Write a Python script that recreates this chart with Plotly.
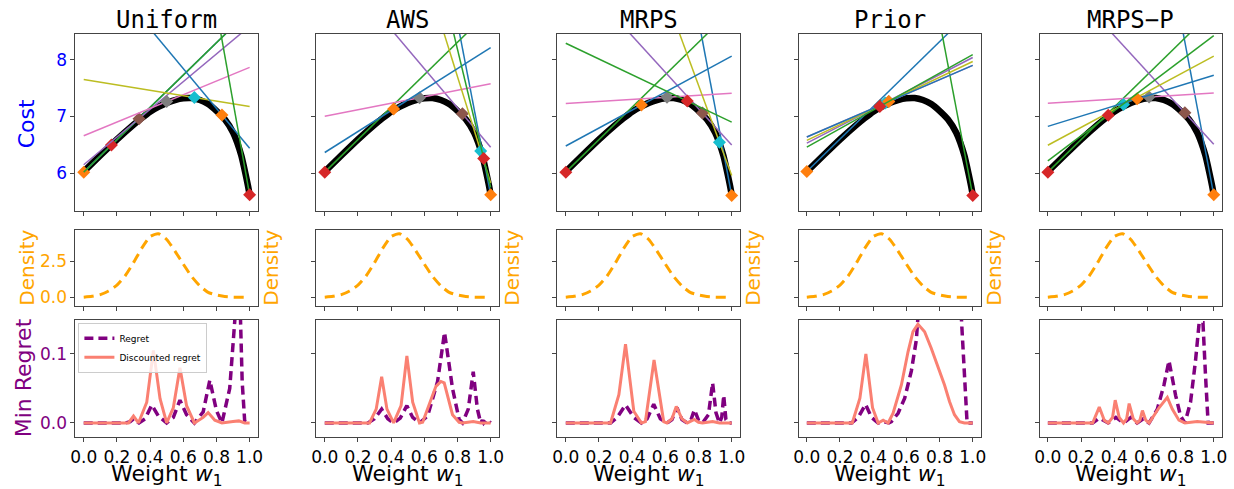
import plotly.graph_objects as go

# ---------------- data ----------------
METHODS = ["Uniform", "AWS", "MRPS", "Prior", "MRPS\u2212P"]

# Pareto front (cost of optimal solution vs weight w1)
FRONT_W = [0.0, 0.1, 0.2, 0.3, 0.35, 0.4, 0.45, 0.5, 0.55, 0.6, 0.65, 0.7, 0.75,
           0.8, 0.85, 0.9, 0.925, 0.95, 0.975, 0.99, 1.0]
FRONT_COST = [6.03, 6.315, 6.595, 6.855, 6.975, 7.085, 7.17, 7.24, 7.29, 7.32, 7.325,
              7.29, 7.22, 7.10, 6.95, 6.72, 6.54, 6.31, 5.99, 5.78, 5.62]

# sampled weights and the objective values of the selected solutions
# (cost at w1=0 -> F0, cost at w1=1 -> F1)
UNIFORM_W = [0.0, 0.167, 0.333, 0.5, 0.667, 0.833, 1.0]
UNIFORM_F0 = [6.02, 6.02, 6.15, 6.66, 7.65, 9.95, 22.0]
UNIFORM_F1 = [8.87, 8.87, 8.59, 7.865, 7.175, 6.44, 5.62]

AWS_W = [1.0, 0.0, 0.83, 0.571, 0.94, 0.415, 0.958]
AWS_F0 = [20.8, 6.02, 9.92, 7.006, 15.2, 6.366, 17.92]
AWS_F1 = [5.62, 8.88, 6.46, 7.576, 5.83, 8.215, 5.75]

MRPS_W = [1.0, 0.0, 0.824, 0.61, 0.926, 0.456, 0.732]
MRPS_F0 = [21.08, 6.02, 9.70, 7.228, 13.91, 6.48, 8.29]
MRPS_F1 = [5.61, 8.88, 6.50, 7.409, 5.96, 8.064, 6.90]

PRIOR_W = [0.0, 1.0, 0.444, 0.494, 0.472, 0.494, 0.44]
PRIOR_F0 = [6.03, 21.0, 6.53, 6.64, 6.58, 6.64, 6.46]
PRIOR_F1 = [8.89, 5.61, 8.04, 7.90, 7.97, 7.90, 8.09]

MRPSP_W = [1.0, 0.0, 0.826, 0.61, 0.456, 0.538, 0.364]
MRPSP_F0 = [21.08, 6.02, 9.70, 7.233, 6.494, 6.826, 6.22]
MRPSP_F1 = [5.62, 8.88, 6.51, 7.413, 8.064, 7.727, 8.426]

# prior density over w1
DENS_W = [0.0, 0.05, 0.1, 0.15, 0.2, 0.25, 0.3, 0.35, 0.4, 0.45, 0.5, 0.55, 0.6,
          0.65, 0.7, 0.75, 0.8, 0.85, 0.9, 0.95, 1.0]
DENS = [0.02, 0.08, 0.2, 0.45, 0.85, 1.5, 2.4, 3.4, 4.2, 4.4, 4.0, 3.2, 2.3,
        1.45, 0.8, 0.35, 0.17, 0.06, 0.02, 0.01, 0.0]

# min regret and discounted regret
UNIFORM_REG_W = [0.0, 0.25, 0.28, 0.30, 0.32, 0.333, 0.37, 0.41, 0.45, 0.5, 0.54, 0.58,
                 0.62, 0.667, 0.72, 0.76, 0.80, 0.833, 0.88, 0.936, 0.955, 0.97, 1.0]
UNIFORM_REG = [0.0, 0.0, 0.002, 0.006, 0.002, 0.0, 0.006, 0.026, 0.010, 0.0, 0.008, 0.033,
               0.012, 0.0, 0.016, 0.062, 0.018, 0.0, 0.05, 0.23, 0.06, 0.003, 0.0]
UNIFORM_DISC_W = [0.0, 0.27, 0.30, 0.33, 0.38, 0.42, 0.46, 0.5, 0.54, 0.58, 0.62, 0.667,
                  0.72, 0.75, 0.79, 0.833, 0.9, 0.935, 0.97, 1.0]
UNIFORM_DISC = [0.0, 0.0, 0.010, 0.0, 0.03, 0.105, 0.035, 0.0, 0.022, 0.080, 0.025, 0.0,
                0.008, 0.015, 0.004, 0.0, 0.002, 0.003, 0.0, 0.0]

AWS_REG_W = [0.0, 0.26, 0.30, 0.343, 0.38, 0.415, 0.455, 0.495, 0.53, 0.571, 0.62, 0.68,
             0.722, 0.77, 0.81, 0.83, 0.865, 0.895, 0.92, 0.94, 0.95, 0.958, 0.975, 1.0]
AWS_REG = [0.0, 0.0, 0.006, 0.020, 0.006, 0.0, 0.007, 0.025, 0.008, 0.0, 0.010, 0.060,
           0.131, 0.050, 0.005, 0.0, 0.02, 0.074, 0.02, 0.0, 0.004, 0.0, 0.005, 0.0]
AWS_DISC_W = [0.0, 0.27, 0.31, 0.343, 0.375, 0.415, 0.46, 0.495, 0.53, 0.571, 0.59, 0.67,
              0.70, 0.72, 0.77, 0.81, 0.83, 0.895, 0.94, 1.0]
AWS_DISC = [0.0, 0.0, 0.02, 0.067, 0.02, 0.0, 0.025, 0.097, 0.03, 0.0, 0.001, 0.053,
            0.060, 0.058, 0.012, 0.001, 0.0, 0.002, 0.0, 0.0]

MRPS_REG_W = [0.0, 0.27, 0.31, 0.36, 0.41, 0.456, 0.49, 0.53, 0.57, 0.61, 0.64, 0.67,
              0.70, 0.732, 0.755, 0.775, 0.80, 0.824, 0.86, 0.885, 0.905, 0.926, 0.94,
              0.952, 0.965, 0.98, 1.0]
MRPS_REG = [0.0, 0.0, 0.008, 0.026, 0.008, 0.0, 0.006, 0.027, 0.006, 0.0, 0.005, 0.022,
            0.005, 0.0, 0.005, 0.019, 0.004, 0.0, 0.012, 0.058, 0.015, 0.0, 0.008,
            0.040, 0.005, 0.0, 0.0]
MRPS_DISC_W = [0.0, 0.27, 0.32, 0.36, 0.41, 0.456, 0.48, 0.532, 0.59, 0.61, 0.64, 0.666,
               0.70, 0.732, 0.775, 0.80, 0.824, 0.885, 0.926, 1.0]
MRPS_DISC = [0.0, 0.0, 0.041, 0.114, 0.017, 0.0, 0.002, 0.091, 0.002, 0.0, 0.006, 0.024,
             0.006, 0.0, 0.005, 0.001, 0.0, 0.002, 0.0, 0.0]

PRIOR_REG_W = [0.0, 0.27, 0.31, 0.354, 0.39, 0.43, 0.46, 0.494, 0.51, 0.55, 0.59, 0.63,
               0.66, 0.70, 0.862, 0.932, 0.95, 0.966, 1.0]
PRIOR_REG = [0.0, 0.0, 0.008, 0.027, 0.008, 0.0, 0.002, 0.0, 0.002, 0.014, 0.036, 0.075,
             0.12, 0.2, 0.8, 0.15, 0.06, 0.0, 0.0]
PRIOR_DISC_W = [0.0, 0.274, 0.32, 0.356, 0.396, 0.43, 0.46, 0.49, 0.52, 0.57, 0.61, 0.64,
                0.67, 0.71, 0.75, 0.79, 0.83, 0.86, 0.89, 0.92, 0.95, 1.0]
PRIOR_DISC = [0.0, 0.0, 0.036, 0.100, 0.022, 0.0, 0.004, 0.0, 0.014, 0.055, 0.103, 0.132,
              0.143, 0.132, 0.108, 0.082, 0.055, 0.031, 0.012, 0.002, 0.0, 0.0]

MRPSP_REG_W = [0.0, 0.27, 0.31, 0.364, 0.41, 0.456, 0.50, 0.538, 0.575, 0.61, 0.66, 0.70,
               0.73, 0.77, 0.80, 0.826, 0.86, 0.89, 0.912, 0.935, 0.95, 0.966, 1.0]
MRPSP_REG = [0.0, 0.0, 0.007, 0.0, 0.008, 0.0, 0.008, 0.0, 0.006, 0.0, 0.02, 0.055,
             0.090, 0.04, 0.01, 0.0, 0.03, 0.09, 0.145, 0.145, 0.07, 0.0, 0.0]
MRPSP_DISC_W = [0.0, 0.27, 0.31, 0.34, 0.364, 0.39, 0.406, 0.43, 0.456, 0.475, 0.49, 0.515,
                0.538, 0.555, 0.57, 0.59, 0.61, 0.67, 0.72, 0.75, 0.79, 0.826, 0.9, 0.97, 1.0]
MRPSP_DISC = [0.0, 0.0, 0.023, 0.004, 0.0, 0.008, 0.033, 0.008, 0.0, 0.006, 0.028, 0.006,
              0.0, 0.004, 0.018, 0.004, 0.0, 0.022, 0.037, 0.02, 0.004, 0.0, 0.002, 0.0, 0.0]

SAMPLES = [
    (UNIFORM_W, UNIFORM_F0, UNIFORM_F1),
    (AWS_W, AWS_F0, AWS_F1),
    (MRPS_W, MRPS_F0, MRPS_F1),
    (PRIOR_W, PRIOR_F0, PRIOR_F1),
    (MRPSP_W, MRPSP_F0, MRPSP_F1),
]
REGRETS = [
    (UNIFORM_REG_W, UNIFORM_REG, UNIFORM_DISC_W, UNIFORM_DISC),
    (AWS_REG_W, AWS_REG, AWS_DISC_W, AWS_DISC),
    (MRPS_REG_W, MRPS_REG, MRPS_DISC_W, MRPS_DISC),
    (PRIOR_REG_W, PRIOR_REG, PRIOR_DISC_W, PRIOR_DISC),
    (MRPSP_REG_W, MRPSP_REG, MRPSP_DISC_W, MRPSP_DISC),
]

XTICKS = [0.0, 0.2, 0.4, 0.6, 0.8, 1.0]
XTICK_TEXT = ["0.0", "0.2", "0.4", "0.6", "0.8", "1.0"]

# ---------------- layout constants ----------------
W, H = 1234, 489
COL_LEFT = [71, 314, 557, 800, 1043]
COL_W = 184
ROWS = [(34, 212), (231, 307), (321, 439)]
YRANGES = [[5.333, 8.456], [-0.57, 4.65], [-0.0206, 0.1494]]
YTICKS = [[6, 7, 8], [0.0, 2.5], [0.0, 0.1]]
YTICK_TEXT = [["6", "7", "8"], ["0.0", "2.5"], ["0.0", "0.1"]]
YCOLORS = ["#0000ff", "#ffa500", "#800080"]
TAB10 = ['#1f77b4', '#ff7f0e', '#2ca02c', '#d62728', '#9467bd',
         '#8c564b', '#e377c2', '#7f7f7f', '#bcbd22', '#17becf']
FONT = "DejaVu Sans"
MONO = "DejaVu Sans Mono"
FRAME = "#444444"


def px_x(p):
    return p / W


def px_y(p):
    return 1 - p / H


fig = go.Figure()
layout = {}

for c in range(5):
    for r in range(3):
        idx = r * 5 + c + 1
        sx = "" if idx == 1 else str(idx)
        layout["xaxis" + sx] = dict(
            domain=[px_x(COL_LEFT[c]), px_x(COL_LEFT[c] + COL_W)],
            anchor="y" + sx, range=[-0.05, 1.05],
            tickmode="array", tickvals=XTICKS, ticktext=XTICK_TEXT,
            showticklabels=(r == 2), ticks="outside", ticklen=4, tickwidth=1,
            tickcolor=FRAME, showline=True, mirror=True, linecolor=FRAME,
            linewidth=1, showgrid=False, zeroline=False,
            tickfont=dict(family=FONT, size=17, color="black"),
        )
        layout["yaxis" + sx] = dict(
            domain=[px_y(ROWS[r][1]), px_y(ROWS[r][0])],
            anchor="x" + sx, range=YRANGES[r],
            tickmode="array", tickvals=YTICKS[r], ticktext=YTICK_TEXT[r],
            showticklabels=(c == 0), ticks="outside", ticklen=4, tickwidth=1,
            tickcolor=FRAME, showline=True, mirror=True, linecolor=FRAME,
            linewidth=1, showgrid=False, zeroline=False,
            tickfont=dict(family=FONT, size=17, color=YCOLORS[r]),
        )

for c in range(5):
    top = "" if c == 0 else str(c + 1)
    den = str(5 + c + 1)
    reg = str(10 + c + 1)
    # Pareto front
    fig.add_trace(go.Scatter(
        x=FRONT_W, y=FRONT_COST, mode="lines",
        line=dict(color="black", width=6.5, shape="spline", smoothing=0.6),
        xaxis="x" + top, yaxis="y" + top, showlegend=False, hoverinfo="skip"))
    sw, f0, f1 = SAMPLES[c]
    for k in range(len(sw)):
        fig.add_trace(go.Scatter(
            x=[0.0, 1.0], y=[f0[k], f1[k]], mode="lines",
            line=dict(color=TAB10[(2 * k) % 10], width=1.5),
            xaxis="x" + top, yaxis="y" + top, showlegend=False, hoverinfo="skip"))
        wk = sw[k]
        fig.add_trace(go.Scatter(
            x=[wk], y=[wk * f1[k] + (1 - wk) * f0[k]], mode="markers",
            marker=dict(symbol="diamond", size=10, color=TAB10[(2 * k + 1) % 10]),
            xaxis="x" + top, yaxis="y" + top, showlegend=False, hoverinfo="skip"))
    # density
    fig.add_trace(go.Scatter(
        x=DENS_W, y=DENS, mode="lines",
        line=dict(color="#ffa500", width=3, dash="10px,6px", shape="spline", smoothing=0.5),
        xaxis="x" + den, yaxis="y" + den, showlegend=False, hoverinfo="skip"))
    # regret
    rw, rv, dw, dv = REGRETS[c]
    fig.add_trace(go.Scatter(
        x=rw, y=rv, mode="lines", name="Regret",
        line=dict(color="#800080", width=3.5, dash="9px,5px"),
        xaxis="x" + reg, yaxis="y" + reg, showlegend=(c == 0), hoverinfo="skip"))
    fig.add_trace(go.Scatter(
        x=dw, y=dv, mode="lines", name="Discounted regret",
        line=dict(color="#fa8072", width=3),
        xaxis="x" + reg, yaxis="y" + reg, showlegend=(c == 0), hoverinfo="skip"))

annotations = []
for c, name in enumerate(METHODS):
    cx = px_x(COL_LEFT[c] + COL_W / 2)
    annotations.append(dict(
        text=name, x=cx, y=px_y(20), xref="paper", yref="paper",
        xanchor="center", yanchor="middle", showarrow=False,
        font=dict(family=MONO, size=24, color="black")))
    annotations.append(dict(
        text="Weight <i>w</i><sub>1</sub>", x=cx, y=px_y(494), xref="paper", yref="paper",
        xanchor="center", yanchor="bottom", showarrow=False,
        font=dict(family=FONT, size=22, color="black")))
    dx = 22 if c == 0 else COL_LEFT[c] - 46
    annotations.append(dict(
        text="Density", x=px_x(dx), y=px_y(269), xref="paper", yref="paper",
        xanchor="center", yanchor="middle", showarrow=False, textangle=-90,
        font=dict(family=FONT, size=20, color="#ffa500")))
annotations.append(dict(
    text="Cost", x=px_x(22), y=px_y(124), xref="paper", yref="paper",
    xanchor="center", yanchor="middle", showarrow=False, textangle=-90,
    font=dict(family=FONT, size=22, color="#0000ff")))
annotations.append(dict(
    text="Min Regret", x=px_x(19), y=px_y(379), xref="paper", yref="paper",
    xanchor="center", yanchor="middle", showarrow=False, textangle=-90,
    font=dict(family=FONT, size=22, color="#800080")))

fig.update_layout(
    **layout,
    annotations=annotations,
    width=W, height=H, autosize=False,
    margin=dict(l=0, r=0, t=0, b=0),
    paper_bgcolor="white", plot_bgcolor="white",
    font=dict(family=FONT, color="black"),
    legend=dict(
        x=px_x(74), y=px_y(324), xanchor="left", yanchor="top",
        font=dict(family=FONT, size=9, color="black"),
        bgcolor="rgba(255,255,255,0.8)", bordercolor="#cccccc", borderwidth=1,
        itemwidth=30, tracegroupgap=0),
)

fig.write_html("out.html")
